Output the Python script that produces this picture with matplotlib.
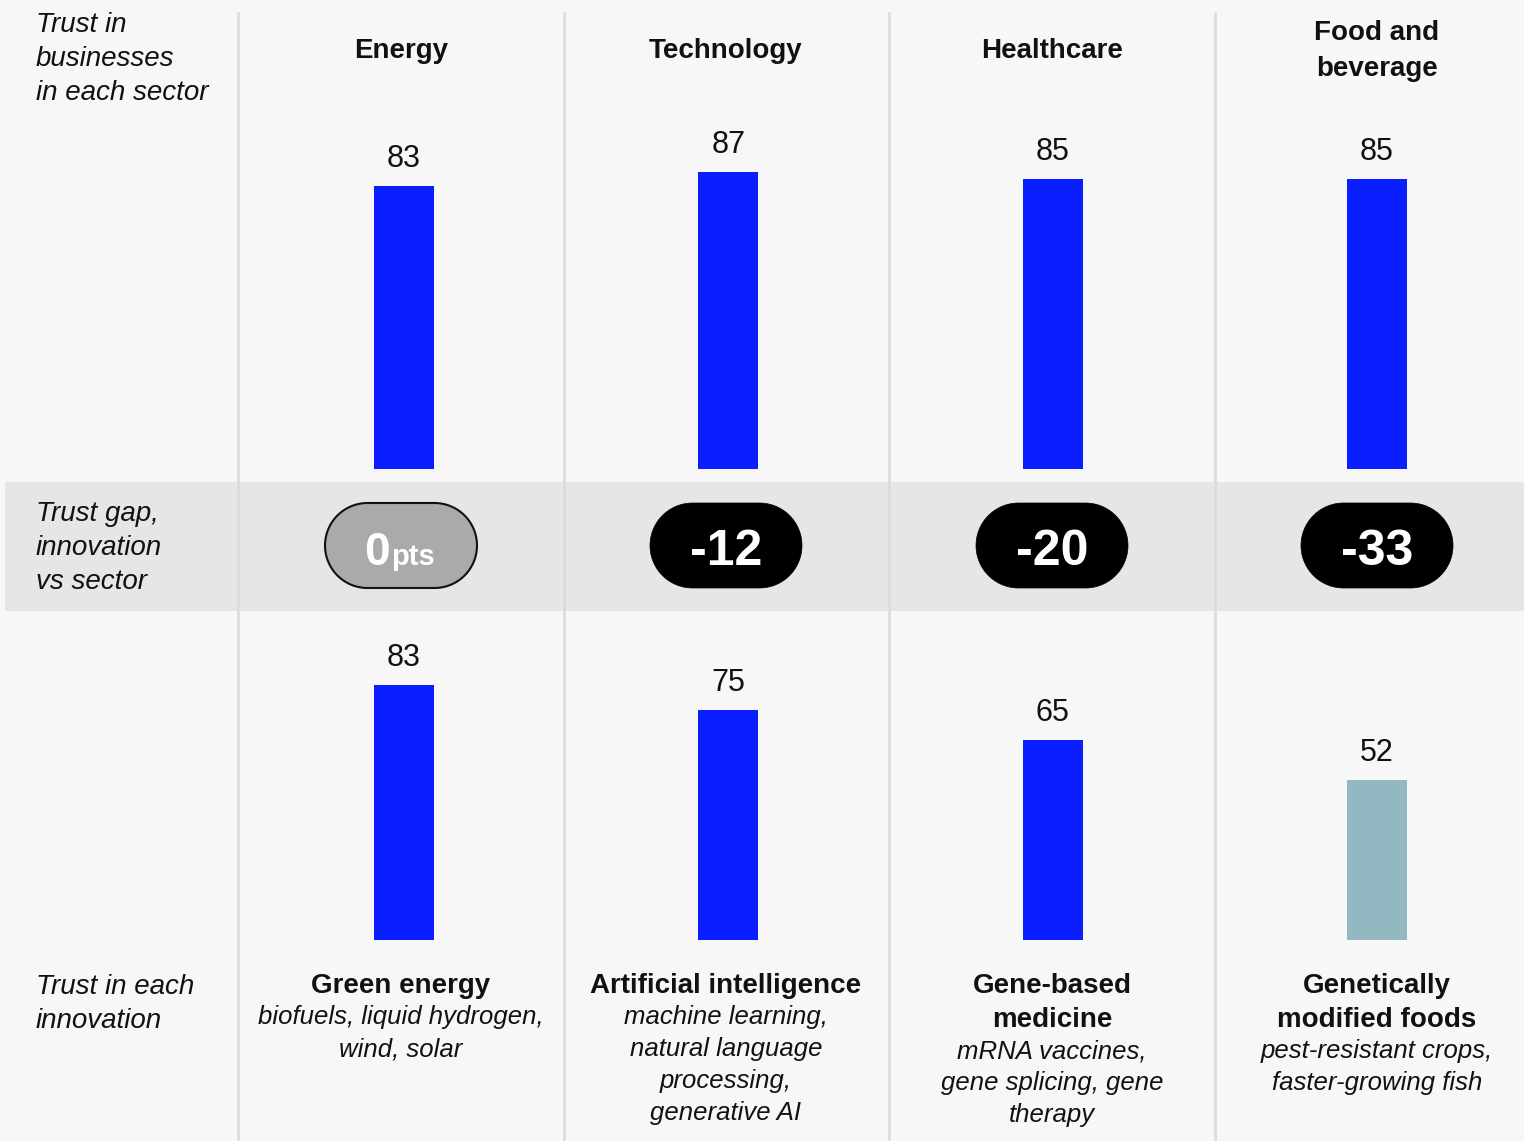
import numpy as np
import matplotlib
matplotlib.use('Agg')
import matplotlib.pyplot as plt
from matplotlib.patches import Polygon, Rectangle

plt.rcParams['font.family'] = ['Liberation Sans', 'DejaVu Sans']

# data
sectors = [['Energy'], ['Technology'], ['Healthcare'], ['Food and', 'beverage']]
sector_trust = [83, 87, 85, 85]
innovation_trust = [83, 75, 65, 52]
innovation_names = [['Green energy'],
                    ['Artificial intelligence'],
                    ['Gene-based', 'medicine'],
                    ['Genetically', 'modified foods']]
innovation_examples = [['biofuels, liquid hydrogen,', 'wind, solar'],
                       ['machine learning,', 'natural language', 'processing,', 'generative AI'],
                       ['mRNA vaccines,', 'gene splicing, gene', 'therapy'],
                       ['pest-resistant crops,', 'faster-growing fish']]
row_labels = [['Trust in', 'businesses', 'in each sector'],
              ['Trust gap,', 'innovation', 'vs sector'],
              ['Trust in each', 'innovation']]
gaps = [b - a for a, b in zip(sector_trust, innovation_trust)]

W, H = 1524, 1141
BG = '#f7f7f7'
BLUE = '#0a1eff'
TEAL = '#92b9c1'

fig = plt.figure(figsize=(W / 100, H / 100), dpi=100, facecolor=BG)

# background axes in pixel units
bg = fig.add_axes([0, 0, 1, 1])
bg.set_xlim(0, W)
bg.set_ylim(H, 0)
bg.axis('off')
bg.set_facecolor(BG)

x0, step = 404, 324.33
text_x = [401, 726, 1052, 1377]

bg.add_patch(Rectangle((5, 482), W - 5, 129, facecolor='#e6e6e6', edgecolor='none', zorder=1))
for xd in [238, 564, 889, 1215]:
    bg.plot([xd, xd], [12, H], color='#dcdcdc', lw=2, zorder=2, solid_capstyle='butt')


def stadium(cx, cy, w, h):
    r = h / 2
    t = np.linspace(-np.pi / 2, np.pi / 2, 60)
    right = np.column_stack([cx + w / 2 - r + r * np.cos(t), cy + r * np.sin(t)])
    left = np.column_stack([cx - w / 2 + r - r * np.cos(t), cy - r * np.sin(t)])
    return np.vstack([right, left])


# row labels
for lines, y0 in zip(row_labels, [32, 521, 994]):
    for k, s in enumerate(lines):
        bg.text(36, y0 + k * 34, s, fontsize=20, style='italic', color='#111111',
                ha='left', va='baseline')

# sector headers
for i, lines in enumerate(sectors):
    ys = [58] if len(lines) == 1 else [40, 76]
    for s, y in zip(lines, ys):
        bg.text(text_x[i], y, s, fontsize=20, fontweight='bold', color='#111111',
                ha='center', va='baseline')

# gap pills
for i, g in enumerate(gaps):
    cx = text_x[i]
    if g == 0:
        fc, ec, lw = '#aaaaaa', '#111111', 1.5
    else:
        fc, ec, lw = 'black', 'black', 0.5
    bg.add_patch(Polygon(stadium(cx, 545.5, 152, 85), closed=True, facecolor=fc,
                         edgecolor=ec, lw=lw, zorder=3))
    if g == 0:
        bg.text(cx - 11, 565, '0', fontsize=33, fontweight='bold', color='white',
                ha='right', va='baseline', zorder=4)
        bg.text(cx - 10, 565, 'pts', fontsize=21, fontweight='bold', color='white',
                ha='left', va='baseline', zorder=4)
    else:
        bg.text(cx, 565, f'{g}', fontsize=36, fontweight='bold', color='white',
                ha='center', va='baseline', zorder=4)

# innovation names and examples
for i in range(4):
    y = 993
    for s in innovation_names[i]:
        bg.text(text_x[i], y, s, fontsize=20, fontweight='bold', color='#111111',
                ha='center', va='baseline')
        y += 34
    y -= 3
    for s in innovation_examples[i]:
        bg.text(text_x[i], y, s, fontsize=18.5, style='italic', color='#111111',
                ha='center', va='baseline')
        y += 32

# bar axes
xlim = (-x0 / step, (W - x0) / step)
bw = 60 / step
xs = np.arange(4)


def bar_panel(top_px, bottom_px, px_per_unit, values, colors):
    ax = fig.add_axes([0, (H - bottom_px) / H, 1, (bottom_px - top_px) / H])
    ax.set_facecolor('none')
    ax.set_xlim(*xlim)
    ax.set_ylim(0, (bottom_px - top_px) / px_per_unit)
    ax.bar(xs, values, width=bw, color=colors, zorder=3)
    for x, v in zip(xs, values):
        ax.annotate(f'{v}', (x, v), xytext=(0, 13.7), textcoords='offset points',
                    ha='center', va='baseline', fontsize=22, color='#111111')
    ax.axis('off')
    return ax


bar_panel(12, 469, 3.41, sector_trust, [BLUE] * 4)
bar_panel(611, 940, 3.07, innovation_trust, [BLUE, BLUE, BLUE, TEAL])

fig.savefig('out.png', dpi=100, facecolor=BG)
